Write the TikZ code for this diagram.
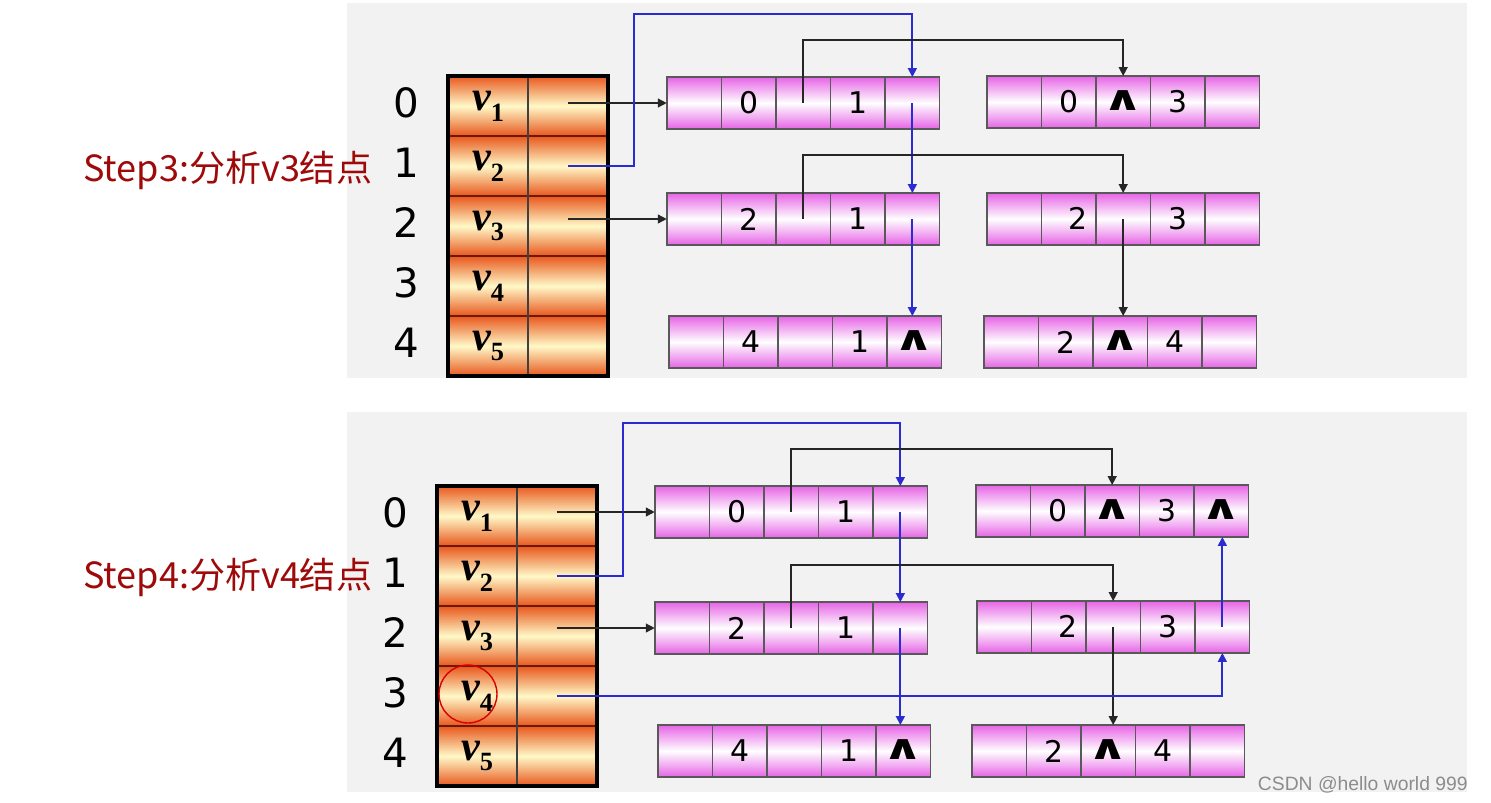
\documentclass[tikz,border=0pt]{standalone}
\usepackage{graphicx}
\usepackage{fontspec}
\setmainfont{Liberation Serif}
\newfontfamily\digitfont{DejaVu Sans}
\newfontfamily\stepfont{Noto Sans CJK SC}
\newfontfamily\markfont{Liberation Sans}
\usetikzlibrary{arrows.meta, positioning}
\definecolor{panelgray}{HTML}{F2F2F2}
\definecolor{edgepink}{HTML}{E664E6}
\definecolor{vexorange}{HTML}{E8571C}
\definecolor{vexcream}{HTML}{FFF9C8}
\definecolor{rowbrown}{HTML}{6A1A04}
\definecolor{linkblue}{HTML}{2B2BD2}
\definecolor{stepred}{HTML}{9E0A0A}

\newcommand{\vlab}[1]{{\bfseries\itshape v}\raisebox{-0.55ex}{\fontsize{15}{15}\selectfont\bfseries #1}}
\newcommand{\nil}{\raisebox{0.15ex}{\scalebox{1.7}[1.15]{\bfseries ∧}}}
% one edge node: name, centre of first cell, five fields
\newcommand{\edgebox}[7]{%
  \node[ecell] (#1-1) at (#2) {#3};
  \node[ecell, right=0pt of #1-1] (#1-2) {#4};
  \node[ecell, right=0pt of #1-2] (#1-3) {#5};
  \node[ecell, right=0pt of #1-3] (#1-4) {#6};
  \node[ecell, right=0pt of #1-4] (#1-5) {#7};
}

\tikzset{
  ecell/.style={rectangle, draw=black!65, line width=0.9pt, minimum width=1.092cm, minimum height=1.04cm,
    inner sep=0pt, outer sep=0pt, top color=edgepink, bottom color=edgepink, middle color=white,
    font=\digitfont\fontsize{17}{17}\selectfont},
  vcell/.style={rectangle, minimum width=1.6cm, minimum height=1.2cm, inner sep=0pt, outer sep=0pt,
    top color=vexorange, bottom color=vexorange, middle color=vexcream, font=\fontsize{24}{24}\selectfont},
  idx/.style={inner sep=0pt, yshift=2pt, font=\digitfont\fontsize{23}{23}\selectfont},
  rowline/.style={rowbrown, line width=1.6pt},
  colline/.style={black!75, line width=0.8pt},
  ptr/.style={-{Triangle[length=5pt,width=5pt]}, black!85, line width=0.8pt},
  blueptr/.style={ptr, linkblue, line width=1pt},
  steplabel/.style={stepred, anchor=west, inner sep=0pt, font=\stepfont\fontsize{20.5}{20.5}\selectfont},
}

\begin{document}
\begin{tikzpicture}[x=0.02cm,y=-0.02cm]
  \useasboundingbox (0,0) rectangle (1491,802);
  \fill[panelgray] (347,3) rectangle (1467,378);
  \fill[panelgray] (347,412) rectangle (1467,792);

  % ---- step 3 ----
  \node[steplabel] (s3-lbl) at (83,170) {Step3:分析v3结点};
  \foreach \i [count=\k from 0] in {1,...,5} {
    \node[vcell] (s3-v\i) at (488,{46+60*\i}) {\vlab{\i}};
    \node[vcell, right=0pt of s3-v\i] (s3-p\i) {};
    \node[idx, left=0.56cm of s3-v\i] (s3-n\k) {\k};
  }
  \foreach \i in {1,...,4}
    \draw[rowline] (s3-v\i.south west) -- (s3-p\i.south east);
  \draw[colline] (s3-p1.north west) -- (s3-p5.south west);
  \draw[line width=2pt] (s3-v1.north west) rectangle (s3-p5.south east);

  \edgebox{s3-e01}{694,103}{}{0}{}{1}{}
  \edgebox{s3-e03}{1014,102}{}{0}{\nil}{3}{}
  \edgebox{s3-e21}{694,219}{}{2}{}{1}{}
  \edgebox{s3-e23}{1014,219}{}{\phantom{0}2}{}{3}{}
  \edgebox{s3-e41}{696,342}{}{4}{}{1}{\nil}
  \edgebox{s3-e24}{1011,342}{}{2}{\nil}{4}{}

  \coordinate (s3-top) at (634,14);
  \coordinate (s3-h1) at (0,40);
  \coordinate (s3-h2) at (0,155);
  \draw[ptr] (s3-p1.center |- s3-e01-1) -- (s3-e01-1.west);
  \draw[ptr] (s3-p3.center |- s3-e21-1) -- (s3-e21-1.west);
  \draw[blueptr] (s3-p2.center) -| (s3-top) -| (s3-e01-5.north);
  \draw[ptr] (s3-e01-3.center) |- (s3-h1 -| s3-e03-3) -- (s3-e03-3.north);
  \draw[blueptr] (s3-e01-5.center) -- (s3-e21-5.north);
  \draw[ptr] (s3-e21-3.center) |- (s3-h2 -| s3-e23-3) -- (s3-e23-3.north);
  \draw[blueptr] (s3-e21-5.center) -- (s3-e21-5.center |- s3-e41-5.north);
  \draw[ptr] (s3-e23-3.center) -- (s3-e23-3.center |- s3-e24-3.north);

  % ---- step 4 ----
  \node[steplabel] (s4-lbl) at (83,577) {Step4:分析v4结点};
  \foreach \i [count=\k from 0] in {1,...,5} {
    \node[vcell] (s4-v\i) at (477,{456+60*\i}) {\vlab{\i}};
    \node[vcell, right=0pt of s4-v\i] (s4-p\i) {};
    \node[idx, left=0.56cm of s4-v\i] (s4-n\k) {\k};
  }
  \foreach \i in {1,...,4}
    \draw[rowline] (s4-v\i.south west) -- (s4-p\i.south east);
  \draw[colline] (s4-p1.north west) -- (s4-p5.south west);
  \draw[line width=2pt] (s4-v1.north west) rectangle (s4-p5.south east);
  \draw[red!85!black, line width=0.8pt] (468,694) ellipse [x radius=0.58cm, y radius=0.58cm];

  \edgebox{s4-e01}{682,512}{}{0}{}{1}{}
  \edgebox{s4-e03}{1003,511}{}{0}{\nil}{3}{\nil}
  \edgebox{s4-e21}{682,628}{}{2}{}{1}{}
  \edgebox{s4-e23}{1004,627}{}{\phantom{0}2}{}{3}{}
  \edgebox{s4-e41}{685,751}{}{4}{}{1}{\nil}
  \edgebox{s4-e24}{999,751}{}{2}{\nil}{4}{}

  \coordinate (s4-top) at (623,423);
  \coordinate (s4-h1) at (0,449);
  \coordinate (s4-h2) at (0,565);
  \draw[ptr] (s4-p1.center |- s4-e01-1) -- (s4-e01-1.west);
  \draw[ptr] (s4-p3.center |- s4-e21-1) -- (s4-e21-1.west);
  \draw[blueptr] (s4-p2.center) -| (s4-top) -| (s4-e01-5.north);
  \draw[ptr] (s4-e01-3.center) |- (s4-h1 -| s4-e03-3) -- (s4-e03-3.north);
  \draw[blueptr] (s4-e01-5.center) -- (s4-e21-5.north);
  \draw[ptr] (s4-e21-3.center) |- (s4-h2 -| s4-e23-3) -- (s4-e23-3.north);
  \draw[blueptr] (s4-e21-5.center) -- (s4-e21-5.center |- s4-e41-5.north);
  \draw[ptr] (s4-e23-3.center) -- (s4-e23-3.center |- s4-e24-3.north);
  \draw[blueptr] (s4-p4.center) -| (s4-e23-5.south);
  \draw[blueptr] (s4-e23-5.center) -- (s4-e23-5.center |- s4-e03-5.south);

  \node[anchor=east, inner sep=0pt, black!45, font=\markfont\fontsize{11}{11}\selectfont] (s4-wm) at (1468,785) {CSDN @hello world 999};
\end{tikzpicture}
\end{document}
